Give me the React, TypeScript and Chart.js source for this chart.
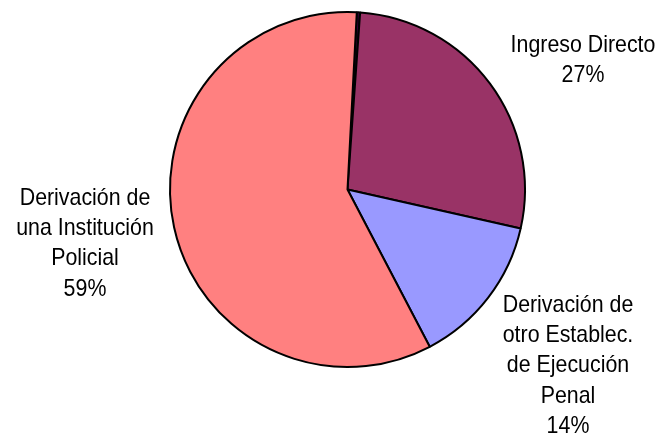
import React, { useEffect, useRef } from "react";
import { Chart, registerables } from "chart.js";

Chart.register(...registerables);

const categories = ["", "Ingreso Directo", "Derivación de otro Establec. de Ejecución Penal", "Derivación de una Institución Policial"];
const labelLines = [[], ["Ingreso Directo"], ["Derivación de", "otro Establec.", "de Ejecución", "Penal"], ["Derivación de", "una Institución", "Policial"]];
const values = [0.3, 27.4, 13.8, 58.5];
const colors = ["#330033", "#993366", "#9999FF", "#FF8080"];
// label anchor (center x, first line y), layout only
const labelPos = [null, [583, 45], [568, 305], [85, 198]];

const labelPlugin = {
  id: "sliceLabels",
  afterDraw(chart: any) {
    const ctx = chart.ctx;
    const total = values.reduce((a, b) => a + b, 0);
    const sx = 0.89;
    ctx.save();
    ctx.fillStyle = "#000";
    ctx.font = "24px 'Liberation Sans Narrow', 'Arial Narrow', 'Liberation Sans', Arial, sans-serif";
    ctx.textAlign = "center";
    ctx.textBaseline = "middle";
    const lh = 30.3;
    categories.forEach((c, i) => {
      const pos = labelPos[i];
      if (!pos) return;
      const lines = [...labelLines[i], Math.round((values[i] / total) * 100) + "%"];
      lines.forEach((t, j) => {
        ctx.save();
        ctx.translate(pos[0], pos[1] + j * lh);
        ctx.scale(sx, 1);
        ctx.fillText(t, 0, 0);
        ctx.restore();
      });
    });
    ctx.restore();
  },
};

export default function App() {
  const ref = useRef<HTMLCanvasElement>(null);
  useEffect(() => {
    const chart = new Chart(ref.current!, {
      type: "pie",
      data: {
        labels: categories,
        datasets: [
          {
            data: values,
            backgroundColor: colors,
            borderColor: "#000",
            borderWidth: 2,
          },
        ],
      },
      options: {
        animation: false,
        responsive: false,
        rotation: 3,
        layout: { padding: { left: 169, right: 139, top: 11, bottom: 71 } },
        plugins: { legend: { display: false }, tooltip: { enabled: false } },
      },
      plugins: [labelPlugin],
    });
    return () => chart.destroy();
  }, []);
  return (
    <div style={{ position: "absolute", left: 0, top: 0, width: 665, height: 439, background: "#fff" }}>
      <canvas ref={ref} width={665} height={439} />
    </div>
  );
}
